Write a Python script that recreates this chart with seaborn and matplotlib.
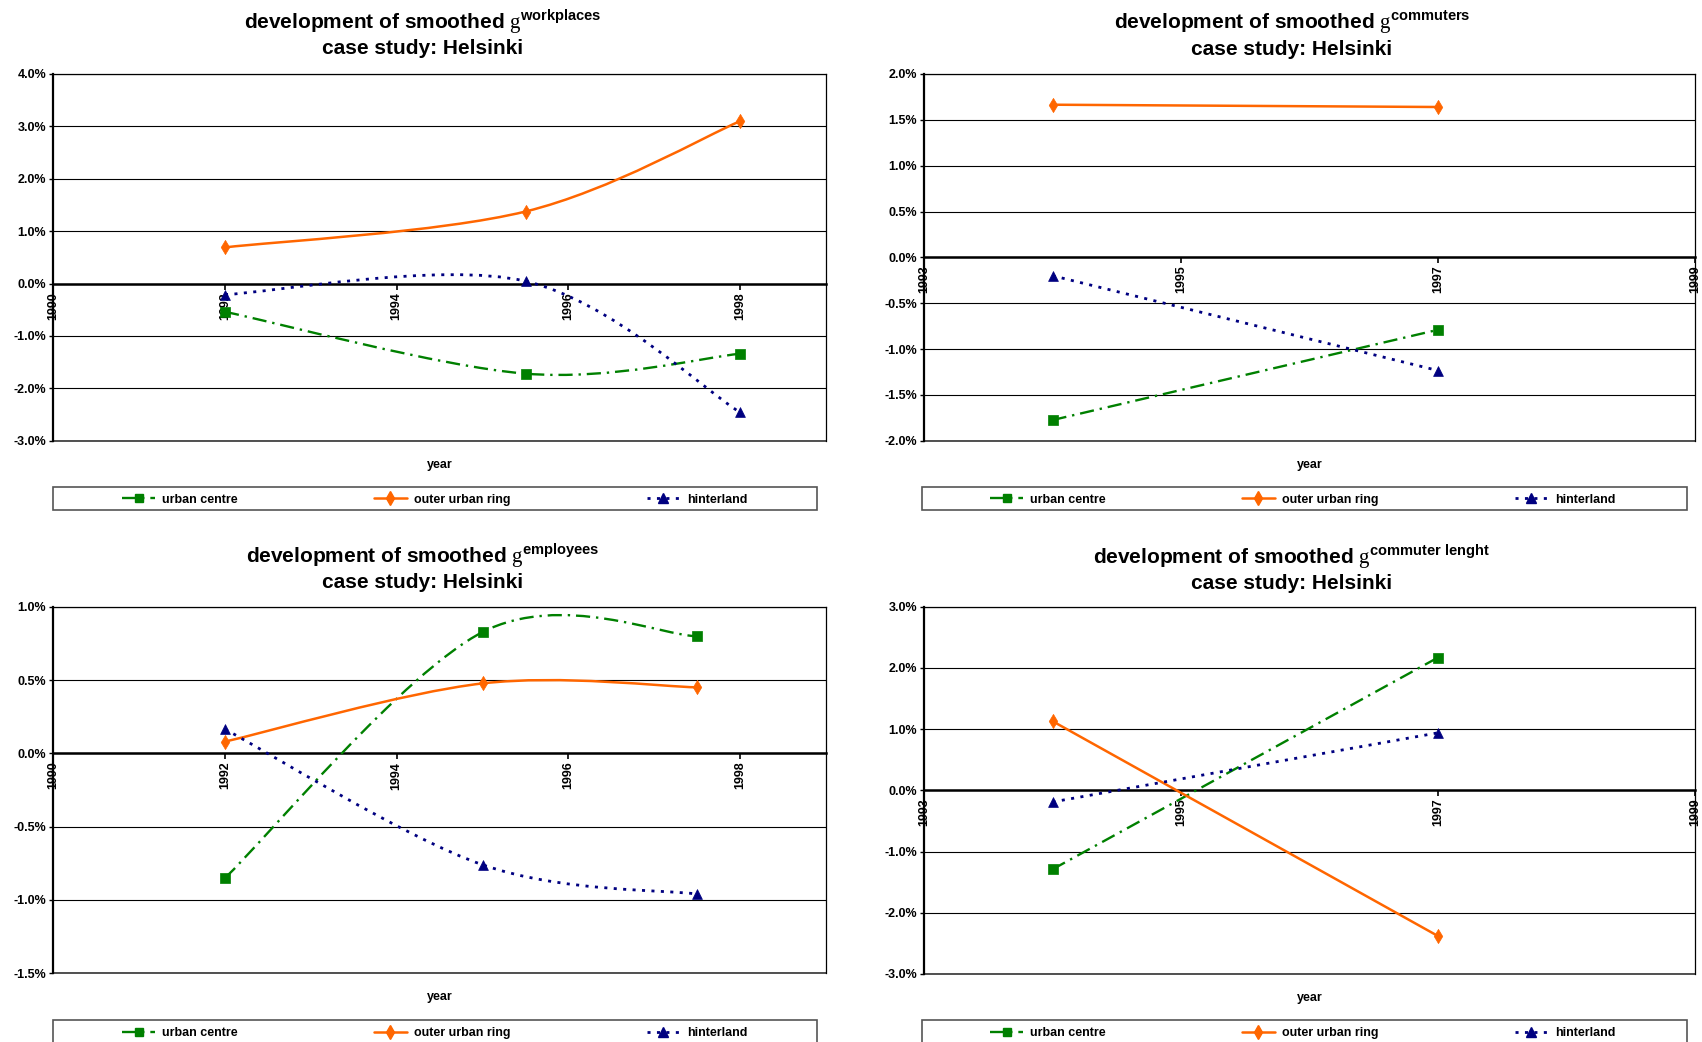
import numpy as np
import matplotlib
matplotlib.use("Agg")
import matplotlib.pyplot as plt
import seaborn as sns
from matplotlib.path import Path
from matplotlib.patches import PathPatch, Rectangle
from matplotlib.lines import Line2D
from matplotlib.ticker import FuncFormatter, MultipleLocator

# ---- data (growth rates in %) ----
series_names = ["urban centre", "outer urban ring", "hinterland"]

wp_years = [1992, 1995.5, 1998]
wp_urban = [-0.54, -1.72, -1.34]
wp_outer = [0.69, 1.375, 3.10]
wp_hinter = [-0.21, 0.045, -2.46]

cm_years = [1994, 1997]
cm_urban = [-1.775, -0.79]
cm_outer = [1.665, 1.64]
cm_hinter = [-0.20, -1.235]

em_years = [1992, 1995, 1997.5]
em_urban = [-0.85, 0.827, 0.798]
em_outer = [0.08, 0.477, 0.45]
em_hinter = [0.164, -0.76, -0.96]

cl_years = [1994, 1997]
cl_urban = [-1.29, 2.17]
cl_outer = [1.13, -2.38]
cl_hinter = [-0.19, 0.94]

# ---- style ----
sns.set_theme(style="white")
plt.rcParams["font.family"] = ["Liberation Sans", "DejaVu Sans"]
plt.rcParams["mathtext.fontset"] = "custom"
plt.rcParams["mathtext.rm"] = "Liberation Serif"
plt.rcParams["mathtext.bf"] = "Liberation Sans:bold"
for key in ["text.color", "axes.labelcolor", "xtick.color", "ytick.color"]:
    plt.rcParams[key] = "black"

W, H = 1702, 1042
fig = plt.figure(figsize=(W / 100, H / 100), dpi=100)

GREEN, ORANGE, NAVY = "#008000", "#FF6600", "#000080"
styles = [
    dict(color=GREEN, ls=(0, (6, 2.5, 1, 2.5)), lw=1.7, marker="s", s=44),
    dict(color=ORANGE, ls="-", lw=1.8, marker="d", s=52),
    dict(color=NAVY, ls=(0, (1.1, 2.3)), lw=2.0, marker="^", s=50),
]


def px_rect(l, t, r, b):
    return [l / W, 1 - b / H, (r - l) / W, (b - t) / H]


def smooth_path(xs, ys):
    """Excel-style smoothed line as a chain of cubic Bezier segments."""
    pts = np.column_stack([xs, ys]).astype(float)
    n = len(pts)
    verts, codes = [pts[0]], [Path.MOVETO]
    for i in range(n - 1):
        p_prev = pts[i - 1] if i > 0 else pts[i]
        p_next = pts[i + 2] if i + 2 < n else pts[i + 1]
        c1 = pts[i] + (pts[i + 1] - p_prev) / 6.0
        c2 = pts[i + 1] - (p_next - pts[i]) / 6.0
        verts += [c1, c2, pts[i + 1]]
        codes += [Path.CURVE4] * 3
    return Path(verts, codes)


panels = [
    dict(sup=r"workplaces", years=wp_years, vals=[wp_urban, wp_outer, wp_hinter],
         rect=(53.3, 74, 826, 440.7), xlim=(1990, 1999), xticks=[1990, 1992, 1994, 1996, 1998],
         ylim=(-3, 4), ystep=1.0, tx=423, ty=(28.3, 54.3), legbox=(52.7, 486.7, 817.3, 510),
         legx=0.4938),
    dict(sup=r"commuters", years=cm_years, vals=[cm_urban, cm_outer, cm_hinter],
         rect=(924, 74, 1695, 440.7), xlim=(1993, 1999), xticks=[1993, 1995, 1997, 1999],
         ylim=(-2, 2), ystep=0.5, tx=1292, ty=(29.3, 55.0), legbox=(922.3, 486.7, 1686.7, 510),
         legx=0.4913),
    dict(sup=r"employees", years=em_years, vals=[em_urban, em_outer, em_hinter],
         rect=(53.3, 606.7, 826, 973.3), xlim=(1990, 1999), xticks=[1990, 1992, 1994, 1996, 1998],
         ylim=(-1.5, 1.0), ystep=0.5, tx=423, ty=(562.7, 588.3), legbox=(52.7, 1020, 817.3, 1043),
         legx=0.4938),
    dict(sup=r"commuter\ lenght", years=cl_years, vals=[cl_urban, cl_outer, cl_hinter],
         rect=(924, 606.7, 1695, 974), xlim=(1993, 1999), xticks=[1993, 1995, 1997, 1999],
         ylim=(-3, 3), ystep=1.0, tx=1292, ty=(563.3, 589.3), legbox=(922.3, 1020, 1686.7, 1043),
         legx=0.4913),
]

for p in panels:
    l, t, r, b = p["rect"]
    ax = fig.add_axes(px_rect(l, t, r, b))
    ax.set_xlim(*p["xlim"])
    ax.set_ylim(*p["ylim"])

    # horizontal gridlines
    ax.yaxis.set_major_locator(MultipleLocator(p["ystep"]))
    ax.yaxis.grid(True, color="black", lw=0.8)
    ax.xaxis.grid(False)
    ax.set_axisbelow(True)

    # frame: heavy left axis, x axis crossing at zero
    for side in ["top", "right"]:
        ax.spines[side].set_color("black")
        ax.spines[side].set_linewidth(0.9)
    ax.spines["left"].set_color("black")
    ax.spines["left"].set_linewidth(1.6)
    ax.spines["bottom"].set_position(("data", 0))
    ax.spines["bottom"].set_color("black")
    ax.spines["bottom"].set_linewidth(1.8)
    ax.spines["bottom"].set_zorder(2.5)
    ax.axhline(p["ylim"][0], color="#333333", lw=1.2, clip_on=False)

    ax.set_xticks(p["xticks"])
    ax.set_xticklabels([str(v) for v in p["xticks"]], rotation=90,
                       fontsize=9, fontweight="bold")
    ax.yaxis.set_major_formatter(FuncFormatter(lambda v, _: f"{v:.1f}%".replace("-0.0", "0.0")))
    ax.tick_params(axis="y", which="major", direction="out", length=3, width=1,
                   color="black", labelsize=9, pad=2, left=True)
    ax.tick_params(axis="x", which="major", direction="out", length=4.5, width=1.2,
                   color="black", labelsize=9, pad=1.5, bottom=True)
    for lab in ax.get_yticklabels():
        lab.set_fontweight("bold")
    ax.set_xlabel("")
    ax.set_ylabel("")

    # series: smoothed lines + markers
    for vals, st in zip(p["vals"], styles):
        ax.add_patch(PathPatch(smooth_path(p["years"], vals), facecolor="none",
                               edgecolor=st["color"], lw=st["lw"], linestyle=st["ls"],
                               capstyle="butt", joinstyle="round", zorder=3))
        sns.scatterplot(x=p["years"], y=vals, marker=st["marker"], s=st["s"],
                        color=st["color"], edgecolor=st["color"], linewidth=0.5,
                        ax=ax, zorder=4, legend=False, clip_on=False)

    # axis title
    ax.text(0.5, -24 / (b - t), "year", transform=ax.transAxes,
            ha="center", va="center", fontsize=9, fontweight="bold")

    # chart title
    fig.text(p["tx"] / W, 1 - p["ty"][0] / H,
             r"development of smoothed $\mathrm{g}^{\mathbf{" + p["sup"] + r"}}$",
             ha="center", va="baseline", fontsize=15, fontweight="bold")
    fig.text(p["tx"] / W, 1 - p["ty"][1] / H, "case study: Helsinki",
             ha="center", va="baseline", fontsize=15, fontweight="bold")

    # legend below the plot, inside a framed box
    lb = p["legbox"]
    fig.add_artist(Rectangle((lb[0] / W, 1 - lb[3] / H), (lb[2] - lb[0]) / W,
                             (lb[3] - lb[1]) / H, transform=fig.transFigure,
                             facecolor="white", edgecolor="#555555", lw=1.2, zorder=-1))
    handles = [Line2D([], [], color=st["color"], lw=st["lw"], linestyle=st["ls"],
                      marker=st["marker"], markersize=np.sqrt(st["s"]) * 0.95)
               for st in styles]
    cy = (b - (lb[1] + lb[3]) / 2 - 1.5) / (b - t)
    leg = ax.legend(handles, series_names, loc="center", bbox_to_anchor=(p["legx"], cy),
                    ncol=3, frameon=False, handlelength=2.6, handletextpad=0.6,
                    columnspacing=10.9, borderpad=0, prop=dict(size=9, weight="bold"))
    leg.set_zorder(6)

fig.savefig("out.png", dpi=100)
